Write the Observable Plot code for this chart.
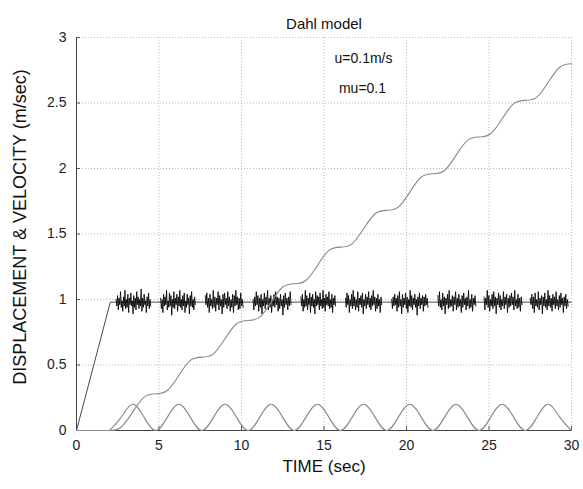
<!DOCTYPE html>
<html>
<head>
<meta charset="utf-8">
<script src="https://cdn.jsdelivr.net/npm/d3@7"></script>
<script src="https://cdn.jsdelivr.net/npm/@observablehq/plot@0.6"></script>
<style>
  html, body { margin: 0; padding: 0; background: #fff; }
  #chart { width: 583px; height: 489px; }
</style>
</head>
<body>
<div id="chart"></div>
<script>
// ---- data ----
const xTicks = [0, 5, 10, 15, 20, 25, 30];
const yTicks = [0, 0.5, 1, 1.5, 2, 2.5, 3];

const titleText = "Dahl model";
const xLabel = "TIME (sec)";
const yLabel = "DISPLACEMENT & VELOCITY (m/sec)";
const notes = ["u=0.1m/s", "mu=0.1"];

// ramp of the velocity trace, then its base level
const rampT = [0, 2.05, 30];
const rampV = [0, 0.98, 0.98];
const baseLevel = 0.98;

// flat start shared by the bump and displacement curves
const restT = [0, 2];
const restV = [0, 0];

// periodic velocity bumps (quarter-period samples from t = 2)
const bumpT = [2, 2.7, 3.4, 4.1, 4.8, 5.5, 6.2, 6.9, 7.6, 8.3, 9.0, 9.7, 10.4, 11.1, 11.8, 12.5, 13.2, 13.9, 14.6, 15.3, 16.0, 16.7, 17.4, 18.1, 18.8, 19.5, 20.2, 20.9, 21.6, 22.3, 23.0, 23.7, 24.4, 25.1, 25.8, 26.5, 27.2, 27.9, 28.6, 29.3, 30];
const bumpV = [0, 0.1, 0.2, 0.1, 0, 0.1, 0.2, 0.1, 0, 0.1, 0.2, 0.1, 0, 0.1, 0.2, 0.1, 0, 0.1, 0.2, 0.1, 0, 0.1, 0.2, 0.1, 0, 0.1, 0.2, 0.1, 0, 0.1, 0.2, 0.1, 0, 0.1, 0.2, 0.1, 0, 0.1, 0.2, 0.1, 0];

// staircase displacement
const dispT = bumpT;
const dispV = [0, 0.025, 0.14, 0.255, 0.28, 0.305, 0.42, 0.535, 0.56, 0.585, 0.70, 0.815, 0.84, 0.865, 0.98, 1.095, 1.12, 1.145, 1.26, 1.375, 1.40, 1.425, 1.54, 1.655, 1.68, 1.705, 1.82, 1.935, 1.96, 1.985, 2.10, 2.215, 2.24, 2.265, 2.38, 2.495, 2.52, 2.545, 2.66, 2.775, 2.80];

// noise bursts on the velocity trace (start, end in s; offsets in hundredths)
const burstStart = [2.4, 5.1, 7.8, 10.7, 13.6, 16.3, 19.1, 21.9, 24.7, 27.5];
const burstEnd   = [4.5, 7.2, 10.1, 13.0, 15.7, 18.5, 21.3, 24.2, 27.0, 29.8];
const burstNoise = [
  [2,-3,5,-6,3,-2,8,-4,1,-7,4,-3,9,-5,2,-4,6,-8,3,-2,7,-3,1,-9,5,-4,3,-6,8,-2,4,-5,2,-3,10,-7,3,-4,6,-2,1,-8,4,-3,7,-5,2,-3],
  [3,-5,2,-8,6,-3,4,-2,9,-6,1,-4,7,-3,5,-10,2,-4,8,-5,3,-2,6,-7,4,-3,9,-4,2,-6,5,-3,7,-8,1,-4,6,-2,3,-9,5,-3,8,-4,2,-6,4,-2],
  [5,-2,7,-4,3,-8,6,-3,2,-5,9,-4,4,-7,3,-2,8,-6,5,-3,2,-9,6,-4,7,-2,3,-5,8,-3,4,-7,2,-4,6,-8,5,-3,9,-2,4,-6,3,-5,7,-3,2,-4],
  [2,-6,4,-3,8,-2,5,-7,3,-4,6,-9,2,-3,7,-5,4,-2,9,-6,3,-4,5,-8,2,-3,6,-4,8,-2,4,-7,3,-5,6,-3,2,-10,5,-4,7,-2,3,-6,4,-3,8,-2],
  [4,-3,6,-7,2,-4,9,-3,5,-6,3,-2,7,-8,4,-3,6,-4,2,-9,8,-3,5,-2,4,-6,7,-3,2,-5,9,-4,3,-7,6,-2,4,-3,8,-5,2,-4,6,-8,3,-2,5,-3],
  [3,-4,7,-2,5,-8,2,-3,6,-5,9,-3,4,-6,2,-4,8,-7,3,-2,5,-4,7,-9,2,-3,6,-5,4,-2,8,-4,3,-6,5,-3,9,-2,4,-7,3,-5,6,-3,2,-8,4,-2],
  [2,-5,4,-3,6,-2,3,-7,5,-4,8,-3,2,-9,6,-4,3,-2,7,-5,4,-8,2,-3,9,-4,5,-6,3,-2,6,-4,2,-10,4,-3,7,-5,3,-2,5,-7,4,-3,6,-2,3,-4],
  [5,-3,8,-4,2,-6,7,-3,4,-9,3,-2,6,-5,9,-4,2,-3,5,-7,4,-2,8,-6,3,-4,6,-3,2,-8,5,-4,7,-2,3,-6,4,-3,9,-5,2,-4,6,-7,3,-2,5,-3],
  [4,-6,3,-2,9,-4,5,-7,2,-3,6,-5,8,-3,4,-9,3,-2,7,-4,5,-6,2,-3,8,-5,4,-2,6,-8,3,-4,5,-3,7,-2,4,-6,9,-3,2,-5,6,-4,3,-7,4,-2],
  [3,-2,6,-5,4,-8,7,-3,2,-4,8,-6,3,-2,5,-9,4,-3,7,-4,2,-6,9,-3,5,-4,3,-7,6,-2,4,-5,8,-3,2,-6,5,-4,7,-2,3,-8,4,-3,6,-5,2,-3]
];

// ---- build tables ----
const ramp = rampT.map((t, i) => ({t, v: rampV[i]}));
const rest = restT.map((t, i) => ({t, v: restV[i]}));
const bump = bumpT.map((t, i) => ({t, v: bumpV[i]}));
const disp = dispT.map((t, i) => ({t, v: dispV[i]}));
const noise = [];
burstNoise.forEach((vals, b) => {
  const s = burstStart[b], e = burstEnd[b], n = vals.length;
  vals.forEach((d, j) => noise.push({burst: b, t: s + j * (e - s) / (n - 1), v: baseLevel + d / 100}));
});

const font = "'Liberation Sans', Arial, Helvetica, sans-serif";
const gridStyle = {stroke: "#b8b8b8", strokeOpacity: 1, strokeWidth: 1, strokeDasharray: "1,2"};

const chart = Plot.plot({
  width: 583,
  height: 489,
  marginLeft: 76,
  marginRight: 12,
  marginTop: 37,
  marginBottom: 59,
  style: {fontFamily: font, fontSize: "14px", background: "#fff", color: "#222"},
  x: {domain: [0, 30], ticks: xTicks},
  y: {domain: [0, 3], ticks: yTicks},
  marks: [
    Plot.gridX(xTicks, gridStyle),
    Plot.gridY(yTicks, gridStyle),
    Plot.ruleX(xTicks, {stroke: "#555", insetTop: 389}),
    Plot.ruleY(yTicks, {stroke: "#555", insetRight: 491}),
    Plot.ruleX([0], {stroke: "#444"}),
    Plot.ruleY([0], {stroke: "#444"}),
    Plot.axisX(xTicks, {tickSize: 0, tickPadding: 10, label: null, fontSize: 14, tickFormat: d => String(d)}),
    Plot.axisY(yTicks, {tickSize: 0, tickPadding: 10, label: null, fontSize: 14, tickFormat: d => String(d)}),
    Plot.line(ramp, {x: "t", y: "v", stroke: "#4a4a4a", strokeWidth: 1}),
    Plot.line(noise, {x: "t", y: "v", z: "burst", stroke: "#000", strokeWidth: 0.85}),
    Plot.line(rest, {x: "t", y: "v", stroke: "#8a8a8a", strokeWidth: 1.1}),
    Plot.line(bump, {x: "t", y: "v", stroke: "#8a8a8a", strokeWidth: 1.1, curve: "natural"}),
    Plot.line(disp, {x: "t", y: "v", stroke: "#8a8a8a", strokeWidth: 1.1, curve: "natural"}),
    Plot.text([titleText], {frameAnchor: "top", dy: -19, fontSize: 15, fill: "#111"}),
    Plot.text([notes[0]], {frameAnchor: "top-left", dx: 287, dy: 16, textAnchor: "middle", fontSize: 14, fill: "#111"}),
    Plot.text([notes[1]], {frameAnchor: "top-left", dx: 286, dy: 46, textAnchor: "middle", fontSize: 14, fill: "#111"}),
    Plot.text([xLabel], {frameAnchor: "bottom", dy: 41, fontSize: 17, fill: "#111"}),
    Plot.text([yLabel], {frameAnchor: "left", dx: -56, dy: -7, rotate: -90, textAnchor: "middle", fontSize: 18, fill: "#111"})
  ]
});
document.getElementById("chart").appendChild(chart);
</script>
</body>
</html>
